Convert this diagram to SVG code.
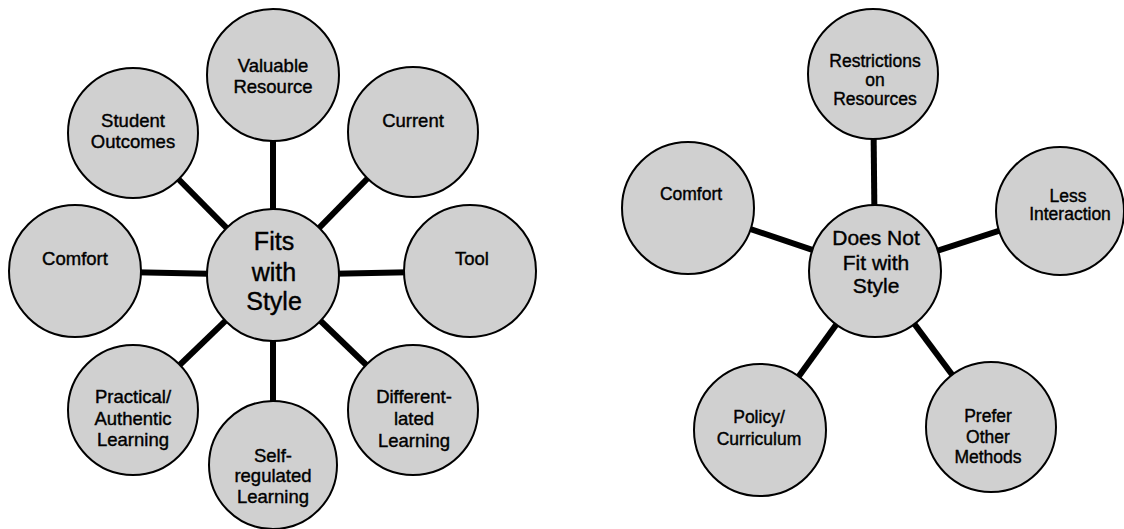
<svg xmlns="http://www.w3.org/2000/svg" width="1124" height="529" viewBox="0 0 1124 529">
<style>
.bg{fill:#ffffff}
.node circle{fill:#d0d0d0;stroke:#000;stroke-width:2}
.conn line{stroke:#000;stroke-width:6;stroke-linecap:butt}
text{font-family:"Liberation Sans",Arial,sans-serif;fill:#000;stroke:#000;stroke-width:0.4;text-anchor:middle}
.o{font-size:18.5px}
.r{font-size:17.5px}
.c1{font-size:25px}
.c2{font-size:21px}
</style>
<rect class="bg" x="0" y="0" width="1124" height="529"/>
<g id="connectors" class="conn">
<line x1="273" y1="275" x2="273" y2="75"/>
<line x1="273" y1="275" x2="133" y2="133"/>
<line x1="273" y1="275" x2="413" y2="132"/>
<line x1="273" y1="275" x2="75" y2="271"/>
<line x1="273" y1="275" x2="470" y2="271"/>
<line x1="273" y1="275" x2="133" y2="410"/>
<line x1="273" y1="275" x2="273" y2="465"/>
<line x1="273" y1="275" x2="413" y2="410"/>
<line x1="875" y1="271" x2="873" y2="74"/>
<line x1="875" y1="271" x2="688" y2="208"/>
<line x1="875" y1="271" x2="1060" y2="211"/>
<line x1="875" y1="271" x2="760" y2="430"/>
<line x1="875" y1="271" x2="991" y2="427"/>
</g>
<g id="n-valuable" class="node"><circle cx="273" cy="75" r="66"/><text class="o" x="273" y="72">Valuable</text><text class="o" x="273" y="93">Resource</text></g>
<g id="n-student" class="node"><circle cx="133" cy="133" r="65"/><text class="o" x="133" y="127">Student</text><text class="o" x="133" y="148">Outcomes</text></g>
<g id="n-current" class="node"><circle cx="413" cy="132" r="65"/><text class="o" x="413" y="127">Current</text></g>
<g id="n-comfort-l" class="node"><circle cx="75" cy="271" r="66"/><text class="o" x="75" y="265">Comfort</text></g>
<g id="n-tool" class="node"><circle cx="470" cy="271" r="66"/><text class="o" x="472" y="265">Tool</text></g>
<g id="n-fits" class="node"><circle cx="273" cy="275" r="66"/><text class="c1" x="274" y="250">Fits</text><text class="c1" x="274" y="281">with</text><text class="c1" x="274" y="310">Style</text></g>
<g id="n-practical" class="node"><circle cx="133" cy="410" r="65"/><text class="o" x="133" y="403">Practical/</text><text class="o" x="133" y="425">Authentic</text><text class="o" x="133" y="446">Learning</text></g>
<g id="n-self" class="node"><circle cx="273" cy="465" r="64"/><text class="o" x="273" y="462">Self-</text><text class="o" x="273" y="482">regulated</text><text class="o" x="273" y="503">Learning</text></g>
<g id="n-diff" class="node"><circle cx="413" cy="410" r="65"/><text class="o" x="414" y="403">Different-</text><text class="o" x="414" y="425">lated</text><text class="o" x="414" y="447">Learning</text></g>
<g id="n-restrictions" class="node"><circle cx="873" cy="74" r="65"/><text class="r" x="875" y="67">Restrictions</text><text class="r" x="875" y="86">on</text><text class="r" x="875" y="105">Resources</text></g>
<g id="n-comfort-r" class="node"><circle cx="688" cy="208" r="66"/><text class="r" x="691" y="200">Comfort</text></g>
<g id="n-less" class="node"><circle cx="1060" cy="211" r="64"/><text class="r" x="1068" y="202">Less</text><text class="r" x="1070" y="220">Interaction</text></g>
<g id="n-doesnot" class="node"><circle cx="875" cy="271" r="66"/><text class="c2" x="876" y="245">Does Not</text><text class="c2" x="876" y="270">Fit with</text><text class="c2" x="876" y="293">Style</text></g>
<g id="n-policy" class="node"><circle cx="760" cy="430" r="66"/><text class="r" x="759" y="423">Policy/</text><text class="r" x="759" y="445">Curriculum</text></g>
<g id="n-prefer" class="node"><circle cx="991" cy="427" r="65"/><text class="r" x="988" y="422">Prefer</text><text class="r" x="988" y="443">Other</text><text class="r" x="988" y="463">Methods</text></g>
</svg>
